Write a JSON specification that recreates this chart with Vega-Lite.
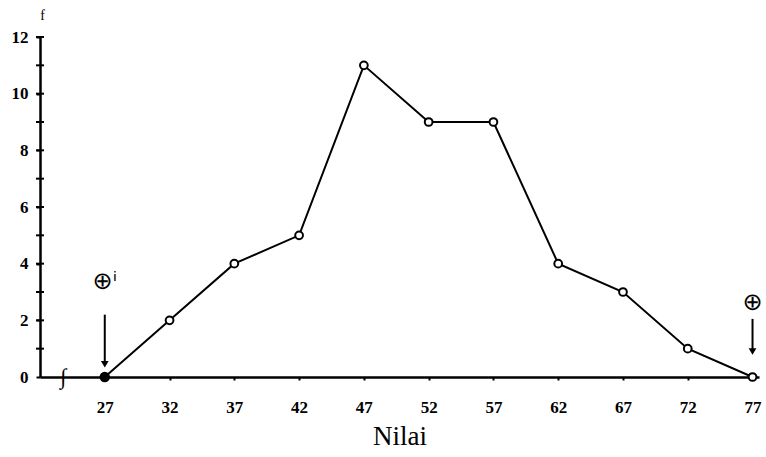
{
  "$schema": "https://vega.github.io/schema/vega-lite/v6.json",
  "width": 719,
  "height": 340,
  "autosize": {"type": "none"},
  "padding": {"left": 40, "top": 37, "right": 7, "bottom": 80},
  "background": "white",
  "config": {
    "view": {"stroke": null},
    "axis": {"grid": false, "domainColor": "black", "domainWidth": 2.5, "tickColor": "black", "tickWidth": 2,
      "labelFont": "Liberation Serif", "labelFontWeight": "bold", "labelFontSize": 17, "labelColor": "black",
      "titleFont": "Liberation Serif", "titleColor": "black"}
  },
  "datasets": {
    "freq": [
      {"nilai": 27, "f": 0}, {"nilai": 32, "f": 2}, {"nilai": 37, "f": 4}, {"nilai": 42, "f": 5},
      {"nilai": 47, "f": 11}, {"nilai": 52, "f": 9}, {"nilai": 57, "f": 9}, {"nilai": 62, "f": 4},
      {"nilai": 67, "f": 3}, {"nilai": 72, "f": 1}, {"nilai": 77, "f": 0}
    ],
    "notes": [
      {"nilai": 27, "sym": 3.35, "top": 2.2, "bottom": 0.45, "label": "⊕ⁱ"},
      {"nilai": 77, "sym": 2.6, "top": 2.05, "bottom": 0.9, "label": "⊕"}
    ],
    "yticks": [
      {"x": 22, "f": 1}, {"x": 22, "f": 2}, {"x": 22, "f": 3}, {"x": 22, "f": 4}, {"x": 22, "f": 5}, {"x": 22, "f": 6},
      {"x": 22, "f": 7}, {"x": 22, "f": 8}, {"x": 22, "f": 9}, {"x": 22, "f": 10}, {"x": 22, "f": 11}, {"x": 22, "f": 12}
    ]
  },
  "layer": [
    {
      "data": {"name": "freq"},
      "mark": {"type": "line", "color": "black", "strokeWidth": 2},
      "encoding": {
        "x": {"field": "nilai", "type": "quantitative", "scale": {"domain": [22, 77.5], "nice": false, "zero": false},
          "axis": {"values": [27, 32, 37, 42, 47, 52, 57, 62, 67, 72, 77], "tickSize": 3, "labelPadding": 19,
            "title": "Nilai", "titleFontSize": 27, "titleFontWeight": "normal", "titlePadding": 8}},
        "y": {"field": "f", "type": "quantitative", "scale": {"domain": [0, 12], "nice": false},
          "axis": {"values": [0,1,2,3,4,5,6,7,8,9,10,11,12], "tickSize": 4, "labelPadding": 8,
            "labelExpr": "datum.value % 2 == 0 ? datum.label : ''",
            "title": "f", "titleAngle": 0, "titleX": 2, "titleY": -15, "titleFontSize": 14, "titleFontWeight": "normal", "titleAlign": "center"}}
      }
    },
    {
      "data": {"name": "yticks"},
      "mark": {"type": "tick", "orient": "horizontal", "color": "black", "thickness": 2, "size": 8, "opacity": 1},
      "encoding": {
        "x": {"field": "x", "type": "quantitative"},
        "y": {"field": "f", "type": "quantitative"}
      }
    },
    {
      "data": {"name": "freq"},
      "mark": {"type": "point", "filled": true, "color": "black", "opacity": 1},
      "transform": [{"filter": "datum.nilai == 27"}],
      "encoding": {
        "x": {"field": "nilai", "type": "quantitative"},
        "y": {"field": "f", "type": "quantitative"},
        "size": {"value": 110}
      }
    },
    {
      "data": {"name": "freq"},
      "transform": [{"filter": "datum.nilai != 27"}],
      "mark": {"type": "point", "shape": "circle", "fill": "white", "stroke": "black", "strokeWidth": 2, "opacity": 1, "size": 60},
      "encoding": {
        "x": {"field": "nilai", "type": "quantitative"},
        "y": {"field": "f", "type": "quantitative"}
      }
    },
    {
      "data": {"name": "notes"},
      "mark": {"type": "rule", "color": "black", "strokeWidth": 2},
      "encoding": {
        "x": {"field": "nilai", "type": "quantitative"},
        "y": {"field": "top", "type": "quantitative"},
        "y2": {"field": "bottom"}
      }
    },
    {
      "data": {"name": "notes"},
      "mark": {"type": "point", "shape": "triangle-down", "filled": true, "color": "black", "size": 60, "opacity": 1},
      "encoding": {
        "x": {"field": "nilai", "type": "quantitative"},
        "y": {"field": "bottom", "type": "quantitative"}
      }
    },
    {
      "data": {"name": "notes"},
      "mark": {"type": "text", "font": "DejaVu Sans", "fontSize": 24, "color": "black", "align": "center", "baseline": "middle"},
      "encoding": {
        "x": {"field": "nilai", "type": "quantitative"},
        "y": {"field": "sym", "type": "quantitative"},
        "text": {"field": "label"}
      }
    },
    {
      "data": {"values": [{"nilai": 23.8, "f": 0, "t": "∫"}]},
      "mark": {"type": "text", "font": "Liberation Serif", "fontSize": 22, "fontStyle": "italic", "color": "black", "align": "center", "baseline": "middle"},
      "encoding": {
        "x": {"field": "nilai", "type": "quantitative"},
        "y": {"field": "f", "type": "quantitative"},
        "text": {"field": "t"}
      }
    }
  ]
}
